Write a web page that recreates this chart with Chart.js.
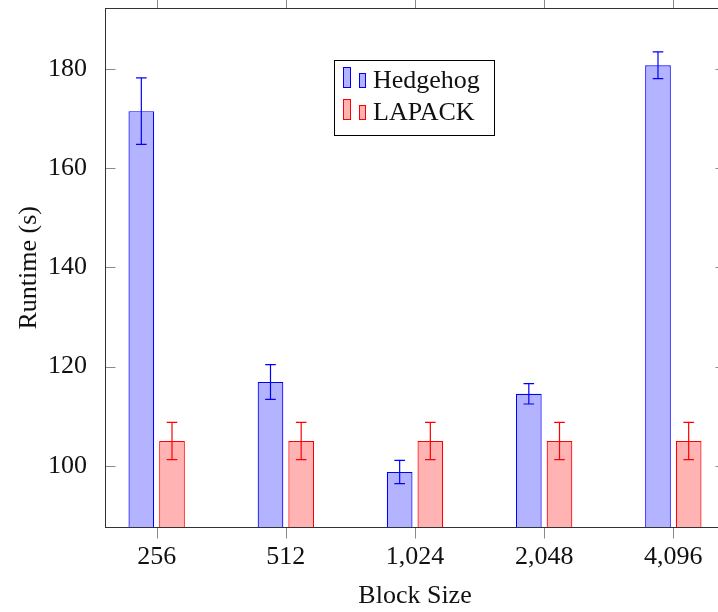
<!DOCTYPE html>
<html>
<head>
<meta charset="utf-8">
<script src="https://cdn.jsdelivr.net/npm/chart.js@4.4.1/dist/chart.umd.min.js"></script>
<style>
html, body { margin: 0; padding: 0; background: #fff; overflow: hidden; }
#wrap { position: relative; width: 740px; height: 612px; }
</style>
</head>
<body>
<div id="wrap"><canvas id="chart"></canvas></div>
<script>
// values
const blockSizes = ['256', '512', '1,024', '2,048', '4,096'];
const hedgehogRuntime = [171.5, 116.9, 98.75, 114.5, 180.75];
const hedgehogError = [6.7, 3.5, 2.35, 2.05, 2.7];
const lapackRuntime = [105.0, 105.0, 105.0, 105.0, 105.0];
const lapackError = [3.75, 3.75, 3.75, 3.75, 3.75];
const yTicks = [100, 120, 140, 160, 180];

const FONT = "'Liberation Serif', 'DejaVu Serif', serif";
const FSIZE = 26;
const AXIS = '#333';
const TICK = '#8a8a8a';

const errorBars = {
    id: 'errorBars',
    afterDatasetsDraw(chart) {
        const ctx = chart.ctx, y = chart.scales.y;
        chart.data.datasets.forEach((ds, di) => {
            const meta = chart.getDatasetMeta(di);
            ctx.save();
            ctx.strokeStyle = ds.borderColor;
            ctx.lineWidth = 1.2;
            meta.data.forEach((bar, i) => {
                const v = ds.data[i].y, e = ds.errors[i];
                const top = y.getPixelForValue(v + e);
                const bot = y.getPixelForValue(v - e);
                const x = bar.x;
                ctx.beginPath();
                ctx.moveTo(x, top); ctx.lineTo(x, bot);
                ctx.moveTo(x - 5.3, top); ctx.lineTo(x + 5.3, top);
                ctx.moveTo(x - 5.3, bot); ctx.lineTo(x + 5.3, bot);
                ctx.stroke();
            });
            ctx.restore();
        });
    }
};

// box axis with pgfplots style ticks
const frame = {
    id: 'frame',
    afterDraw(chart) {
        const ctx = chart.ctx, a = chart.chartArea;
        const x = chart.scales.x, y = chart.scales.y;
        const L = Math.floor(a.left) + 0.5, R = Math.floor(a.right) + 0.5;
        const T = Math.floor(a.top) + 0.5, B = Math.floor(a.bottom) + 0.5;
        ctx.save();
        ctx.strokeStyle = TICK;
        ctx.lineWidth = 1;
        ctx.beginPath();
        yTicks.forEach(v => {
            const py = Math.round(y.getPixelForValue(v)) + 0.5;
            ctx.moveTo(L, py); ctx.lineTo(L + 10, py);
            ctx.moveTo(R, py); ctx.lineTo(R - 10, py);
        });
        blockSizes.forEach((_, i) => {
            const px = Math.round(x.getPixelForValue(i)) + 0.5;
            ctx.moveTo(px, B); ctx.lineTo(px, B + 11);
            ctx.moveTo(px, T); ctx.lineTo(px, T - 11);
        });
        ctx.stroke();
        ctx.strokeStyle = AXIS;
        ctx.strokeRect(L, T, R - L, B - T);
        ctx.restore();
    }
};

const legendBox = {
    id: 'legendBox',
    afterDraw(chart) {
        const ctx = chart.ctx;
        const rows = chart.data.datasets;
        ctx.save();
        ctx.fillStyle = '#fff';
        ctx.fillRect(334.5, 60.5, 160, 75);
        ctx.strokeStyle = '#000';
        ctx.lineWidth = 1;
        ctx.strokeRect(334.5, 60.5, 160, 75);
        rows.forEach((ds, i) => {
            const base = 88 + i * 32;
            ctx.fillStyle = ds.backgroundColor;
            ctx.strokeStyle = ds.borderColor;
            ctx.fillRect(343, base - 21, 8, 21);
            ctx.strokeRect(343.5, base - 20.5, 7, 20);
            ctx.fillRect(359, base - 15, 7, 15);
            ctx.strokeRect(359.5, base - 14.5, 6, 14);
            ctx.fillStyle = '#111';
            ctx.font = FSIZE + 'px ' + FONT;
            ctx.textBaseline = 'alphabetic';
            ctx.fillText(ds.label, 373, base);
        });
        ctx.restore();
    }
};

new Chart(document.getElementById('chart'), {
    type: 'bar',
    data: {
        datasets: [
            {
                label: 'Hedgehog',
                data: hedgehogRuntime.map((v, i) => ({ x: i, y: v })),
                errors: hedgehogError,
                backgroundColor: '#b3b3ff',
                borderColor: '#0000ff',
                borderWidth: 1.2
            },
            {
                label: 'LAPACK',
                data: lapackRuntime.map((v, i) => ({ x: i, y: v })),
                errors: lapackError,
                backgroundColor: '#ffb3b3',
                borderColor: '#ff0000',
                borderWidth: 1.2
            }
        ]
    },
    options: {
        responsive: true,
        maintainAspectRatio: false,
        animation: false,
        devicePixelRatio: 1,
        categoryPercentage: 0.475,
        barPercentage: 0.837,
        layout: { padding: { top: 8.5, right: 15, bottom: 0, left: 0 } },
        plugins: { legend: { display: false }, tooltip: { enabled: false } },
        scales: {
            x: {
                type: 'linear',
                offset: false,
                min: -0.4,
                max: 4.4,
                grid: { display: false, offset: false },
                border: { display: false },
                afterBuildTicks: s => { s.ticks = blockSizes.map((_, i) => ({ value: i })); },
                afterFit: s => { s.height = 85; s.paddingLeft = 0; s.paddingRight = 0; },
                ticks: {
                    autoSkip: false,
                    maxRotation: 0,
                    padding: 7,
                    color: '#111',
                    font: { family: FONT, size: FSIZE },
                    callback: v => blockSizes[v]
                },
                title: {
                    display: true,
                    text: 'Block Size',
                    color: '#111',
                    font: { family: FONT, size: FSIZE },
                    padding: { top: 0, bottom: 0 }
                }
            },
            y: {
                min: 87.65,
                max: 192.2,
                grid: { display: false },
                border: { display: false },
                afterBuildTicks: s => { s.ticks = yTicks.map(v => ({ value: v })); },
                afterFit: s => { s.width = 105; s.paddingTop = 0; s.paddingBottom = 0; },
                ticks: {
                    padding: 10,
                    color: '#111',
                    font: { family: FONT, size: FSIZE }
                },
                title: {
                    display: true,
                    text: 'Runtime (s)',
                    color: '#111',
                    font: { family: FONT, size: FSIZE },
                    padding: { top: 14, bottom: 0 }
                }
            }
        }
    },
    plugins: [errorBars, frame, legendBox]
});
</script>
</body>
</html>
